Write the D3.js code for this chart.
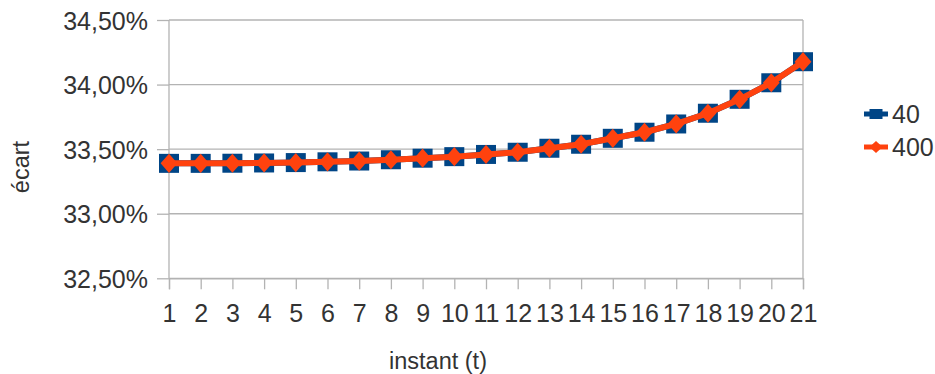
<!DOCTYPE html>
<html>
<head>
<meta charset="utf-8">
<script src="https://cdn.jsdelivr.net/npm/d3@7"></script>
<style>
  html, body { margin: 0; padding: 0; background: #fff; }
  svg { display: block; font-family: "Liberation Sans", Arial, sans-serif; }
</style>
</head>
<body>
<svg id="chart" width="935" height="374"></svg>
<script>
// Instants (x categories)
const instants = [1, 2, 3, 4, 5, 6, 7, 8, 9, 10, 11, 12, 13, 14, 15, 16, 17, 18, 19, 20, 21];
// Écart per instant, as fractions
const serie40  = [0.33390, 0.33390, 0.33391, 0.33393, 0.33396, 0.33402, 0.33408, 0.33418, 0.33430, 0.33442,
                  0.33459, 0.33476, 0.33507, 0.33538, 0.33584, 0.33631, 0.33695, 0.33778, 0.33886, 0.34014, 0.34177];
const serie400 = [0.33390, 0.33390, 0.33391, 0.33393, 0.33396, 0.33402, 0.33408, 0.33418, 0.33430, 0.33442,
                  0.33459, 0.33476, 0.33507, 0.33538, 0.33584, 0.33631, 0.33695, 0.33778, 0.33886, 0.34014, 0.34177];
const seriesNames = ["40", "400"];
const yTicks = [0.325, 0.330, 0.335, 0.340, 0.345];

const svg = d3.select("#chart");
const plotLeft = 169, plotRight = 803, plotTop = 20, plotBottom = 278.3;
const textColor = "#333333";
const gridColor = "#b3b3b3";
const blue = "#004586", orange = "#ff420e";

const x = d3.scaleLinear().domain([1, 21]).range([plotLeft, plotRight]);
const y = d3.scaleLinear().domain([0.325, 0.345]).range([plotBottom, plotTop]);

const fr = d3.formatLocale({ decimal: ",", thousands: " ", grouping: [3], currency: ["", " €"], percent: "%" });
const pct = fr.format(".2%");

// Horizontal gridlines
svg.append("g").selectAll("line").data(yTicks).join("line")
  .attr("x1", plotLeft).attr("x2", plotRight)
  .attr("y1", d => y(d)).attr("y2", d => y(d))
  .attr("stroke", gridColor).attr("stroke-width", 1.3);

// Plot frame (left and right edges)
svg.append("line").attr("x1", plotLeft).attr("x2", plotLeft).attr("y1", plotTop).attr("y2", plotBottom)
  .attr("stroke", gridColor).attr("stroke-width", 1.3);
svg.append("line").attr("x1", plotRight).attr("x2", plotRight).attr("y1", plotTop).attr("y2", plotBottom)
  .attr("stroke", gridColor).attr("stroke-width", 1.3);

// Y axis
const yAxis = svg.append("g").attr("transform", `translate(${plotLeft},0)`)
  .call(d3.axisLeft(y).tickValues(yTicks).tickFormat(pct).tickSize(12).tickPadding(9));
yAxis.select(".domain").remove();
yAxis.selectAll(".tick line").attr("stroke", gridColor).attr("stroke-width", 1.3);
yAxis.selectAll(".tick text").attr("fill", textColor)
  .style("font-size", "25px").style("font-family", "'Liberation Sans', Arial, sans-serif")
  .attr("dy", "0.36em");

// X axis
const xAxis = svg.append("g").attr("transform", `translate(0,${plotBottom})`)
  .call(d3.axisBottom(x).tickValues(instants).tickFormat(d3.format("d")).tickSize(11).tickPadding(0));
xAxis.select(".domain").attr("stroke", gridColor).attr("stroke-width", 1.3);
xAxis.selectAll(".tick line").attr("stroke", gridColor).attr("stroke-width", 1.3);
xAxis.selectAll(".tick text").attr("fill", textColor)
  .style("font-size", "25px").style("font-family", "'Liberation Sans', Arial, sans-serif")
  .attr("y", 43.5).attr("dy", 0);

// Axis titles
svg.append("text").attr("x", 438).attr("y", 369).attr("text-anchor", "middle")
  .attr("fill", textColor).style("font-size", "23.5px").text("instant (t)");
svg.append("text").attr("transform", "translate(28.5,167) rotate(-90)").attr("text-anchor", "middle")
  .attr("fill", textColor).style("font-size", "23.5px").text("écart");

// Series lines and markers
const line = d3.line().x((d, i) => x(instants[i])).y(d => y(d));

svg.append("path").datum(serie40).attr("d", line)
  .attr("fill", "none").attr("stroke", blue).attr("stroke-width", 6).attr("stroke-linejoin", "round");
svg.append("g").selectAll("rect").data(serie40).join("rect")
  .attr("x", (d, i) => x(instants[i]) - 10).attr("y", d => y(d) - 9.5)
  .attr("width", 20).attr("height", 19).attr("fill", blue);

svg.append("path").datum(serie400).attr("d", line)
  .attr("fill", "none").attr("stroke", orange).attr("stroke-width", 6).attr("stroke-linejoin", "round");
const diamond = "M0,-9.6L8.4,0L0,9.6L-8.4,0Z";
svg.append("g").selectAll("path").data(serie400).join("path")
  .attr("transform", (d, i) => `translate(${x(instants[i])},${y(d)})`)
  .attr("d", diamond).attr("fill", orange);

// Legend
const legend = svg.append("g");
const legendRows = [
  { name: seriesNames[0], color: blue, cy: 114, shape: "square" },
  { name: seriesNames[1], color: orange, cy: 147, shape: "diamond" }
];
legendRows.forEach(r => {
  legend.append("line").attr("x1", 864).attr("x2", 888).attr("y1", r.cy).attr("y2", r.cy)
    .attr("stroke", r.color).attr("stroke-width", 5);
  if (r.shape === "square") {
    legend.append("rect").attr("x", 876 - 6.5).attr("y", r.cy - 5).attr("width", 13).attr("height", 10).attr("fill", r.color);
  } else {
    legend.append("path").attr("transform", `translate(876,${r.cy})`).attr("d", "M0,-6L6.5,0L0,6L-6.5,0Z").attr("fill", r.color);
  }
  legend.append("text").attr("x", 892).attr("y", r.cy + 9).attr("fill", textColor)
    .style("font-size", "25px").text(r.name);
});
</script>
</body>
</html>
